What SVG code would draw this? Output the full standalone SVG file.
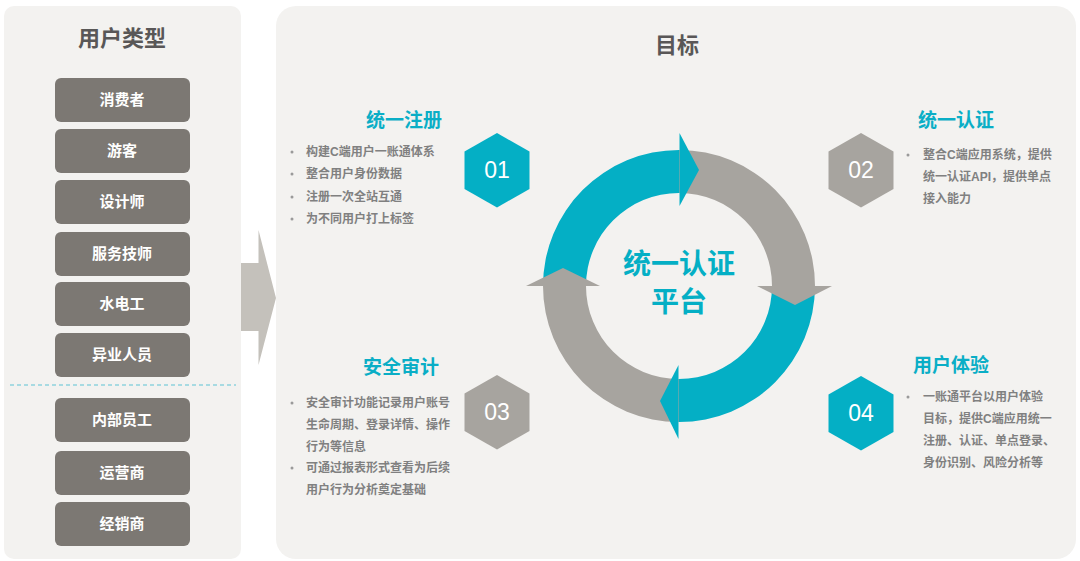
<svg xmlns="http://www.w3.org/2000/svg" width="1080" height="561" viewBox="0 0 1080 561">
<style>
.panel{fill:#f3f2f0}
.btn{fill:#7c7873}
.btnt{font-family:"Noto Sans CJK SC",sans-serif;font-size:15px;font-weight:bold;fill:#ffffff;text-anchor:middle}
.title{font-family:"Noto Sans CJK SC",sans-serif;font-size:22px;font-weight:bold;fill:#595757;text-anchor:middle}
.sec{font-family:"Noto Sans CJK SC",sans-serif;font-size:19px;font-weight:bold;fill:#0aaec6;text-anchor:middle}
.li{font-family:"Liberation Sans","Noto Sans CJK SC",sans-serif;font-size:12px;font-weight:bold;fill:#808080}
.dot{fill:#9a9a9a}
.num{font-family:"Liberation Sans",Arial,sans-serif;font-size:23px;fill:#ffffff;text-anchor:middle}
.teal{fill:#04afc5}
.gray{fill:#a7a49f}
.center{font-family:"Noto Sans CJK SC",sans-serif;font-size:28px;font-weight:bold;fill:#04afc5;text-anchor:middle}
</style>
<rect width="1080" height="561" fill="#ffffff"/>
<g id="bigarrow">
<polygon points="241,263 258.5,263 258.5,230 276,298 258.5,365 258.5,331 241,331" fill="#c4c1bb"/>
</g>
<g id="left-panel">
<rect class="panel" x="4" y="6" width="237" height="553" rx="10"/>
<text class="title" x="122" y="46">用户类型</text>
<line x1="10" y1="385" x2="236" y2="385" stroke="#5cc3d4" stroke-width="1" stroke-dasharray="4,3"/>
</g>
<g id="u1"><rect class="btn" x="55" y="78" width="135" height="44" rx="6"/><text class="btnt" x="122" y="105">消费者</text></g>
<g id="u2"><rect class="btn" x="55" y="129" width="135" height="44" rx="6"/><text class="btnt" x="122" y="156">游客</text></g>
<g id="u3"><rect class="btn" x="55" y="180" width="135" height="44" rx="6"/><text class="btnt" x="122" y="207">设计师</text></g>
<g id="u4"><rect class="btn" x="55" y="232" width="135" height="44" rx="6"/><text class="btnt" x="122" y="259">服务技师</text></g>
<g id="u5"><rect class="btn" x="55" y="282" width="135" height="44" rx="6"/><text class="btnt" x="122" y="309">水电工</text></g>
<g id="u6"><rect class="btn" x="55" y="333" width="135" height="44" rx="6"/><text class="btnt" x="122" y="360">异业人员</text></g>
<g id="u7"><rect class="btn" x="55" y="398" width="135" height="44" rx="6"/><text class="btnt" x="122" y="425">内部员工</text></g>
<g id="u8"><rect class="btn" x="55" y="451" width="135" height="44" rx="6"/><text class="btnt" x="122" y="478">运营商</text></g>
<g id="u9"><rect class="btn" x="55" y="502" width="135" height="44" rx="6"/><text class="btnt" x="122" y="529">经销商</text></g>
<g id="right-panel">
<rect class="panel" x="276" y="6" width="800" height="553" rx="20"/>
<text class="title" x="677" y="53">目标</text>
</g>
<g id="cycle">
<path class="teal" d="M543,286 A136,136 0 0 1 679,150 L679,193 A93,93 0 0 0 586,286 Z"/>
<path class="gray" d="M679,150 A136,136 0 0 1 815,286 L772,286 A93,93 0 0 0 679,193 Z"/>
<path class="teal" d="M815,286 A136,136 0 0 1 679,422 L679,379 A93,93 0 0 0 772,286 Z"/>
<path class="gray" d="M679,422 A136,136 0 0 1 543,286 L586,286 A93,93 0 0 0 679,379 Z"/>
<polygon class="teal" points="679.5,133 699,170 679.5,206"/>
<polygon class="gray" points="832,286 795,305 757,286"/>
<polygon class="teal" points="678.5,439 660,401 678.5,365"/>
<polygon class="gray" points="526,286 563,268 600,286"/>
<text class="center" x="679" y="274">统一认证</text>
<text class="center" x="679" y="312">平台</text>
</g>
<g id="s1">
<text class="sec" x="404" y="127">统一注册</text>
<circle class="dot" cx="292" cy="152" r="1.5"/><text class="li" x="306" y="156">构建C端用户一账通体系</text>
<circle class="dot" cx="292" cy="174" r="1.5"/><text class="li" x="306" y="178">整合用户身份数据</text>
<circle class="dot" cx="292" cy="197" r="1.5"/><text class="li" x="306" y="201">注册一次全站互通</text>
<circle class="dot" cx="292" cy="219" r="1.5"/><text class="li" x="306" y="223">为不同用户打上标签</text>
<polygon class="teal" points="497,133 529.5,151.5 529.5,189 497,207.5 464.5,189 464.5,151.5"/>
<text class="num" x="497" y="178">01</text>
</g>
<g id="s2">
<text class="sec" x="956" y="127">统一认证</text>
<circle class="dot" cx="908" cy="155" r="1.5"/><text class="li" x="923" y="159">整合C端应用系统，提供</text>
<text class="li" x="923" y="181">统一认证API，提供单点</text>
<text class="li" x="923" y="203">接入能力</text>
<polygon class="gray" points="861,133 893.5,151.5 893.5,189 861,207.5 828.5,189 828.5,151.5"/>
<text class="num" x="861" y="178">02</text>
</g>
<g id="s3">
<text class="sec" x="401" y="374">安全审计</text>
<circle class="dot" cx="292" cy="403" r="1.5"/><text class="li" x="306" y="407">安全审计功能记录用户账号</text>
<text class="li" x="306" y="429">生命周期、登录详情、操作</text>
<text class="li" x="306" y="451">行为等信息</text>
<circle class="dot" cx="292" cy="468" r="1.5"/><text class="li" x="306" y="472">可通过报表形式查看为后续</text>
<text class="li" x="306" y="494">用户行为分析奠定基础</text>
<polygon class="gray" points="497,375 529.5,393.5 529.5,431 497,449.5 464.5,431 464.5,393.5"/>
<text class="num" x="497" y="420">03</text>
</g>
<g id="s4">
<text class="sec" x="951" y="372">用户体验</text>
<circle class="dot" cx="908" cy="397" r="1.5"/><text class="li" x="923" y="401">一账通平台以用户体验</text>
<text class="li" x="923" y="423">目标，提供C端应用统一</text>
<text class="li" x="923" y="445">注册、认证、单点登录、</text>
<text class="li" x="923" y="467">身份识别、风险分析等</text>
<polygon class="teal" points="861,376 893.5,394.5 893.5,432 861,450.5 828.5,432 828.5,394.5"/>
<text class="num" x="861" y="421">04</text>
</g>
</svg>
